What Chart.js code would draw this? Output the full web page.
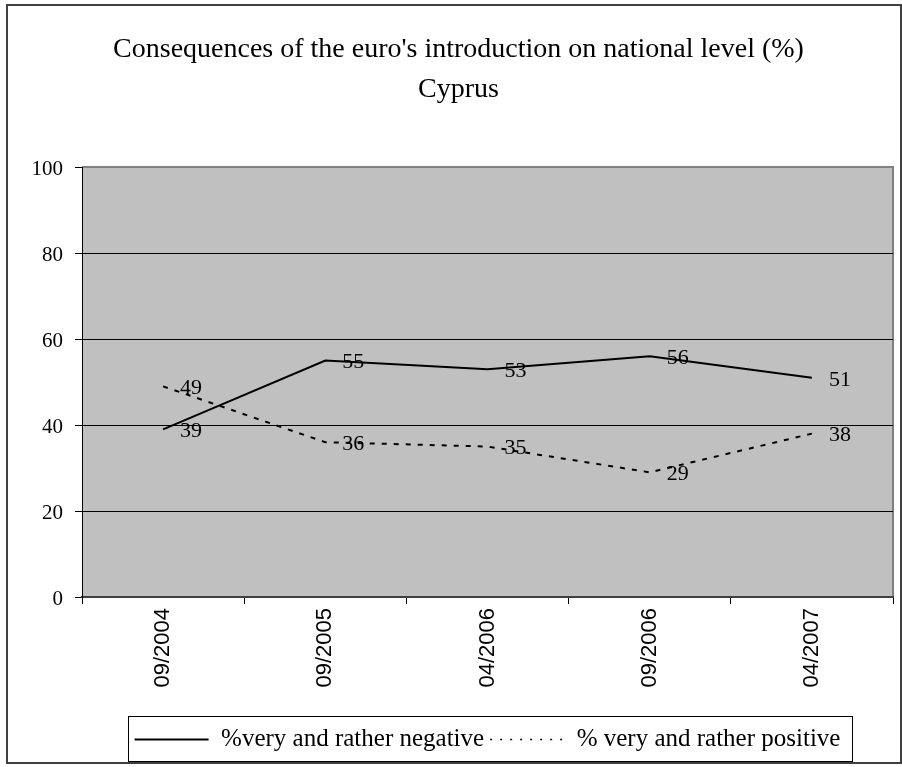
<!DOCTYPE html>
<html>
<head>
<meta charset="utf-8">
<script src="https://cdn.jsdelivr.net/npm/chart.js@4.4.1/dist/chart.umd.min.js"></script>
<style>
  html, body { margin: 0; padding: 0; background: #ffffff; }
  #wrap { position: relative; width: 902px; height: 767px; }
</style>
</head>
<body>
<div id="wrap"><canvas id="chart" width="902" height="767"></canvas></div>
<script>
// Survey waves (x axis)
const categories = ['09/2004', '09/2005', '04/2006', '09/2006', '04/2007'];
// Share of respondents, %
const negativeValues = [39, 55, 53, 56, 51];
const positiveValues = [49, 36, 35, 29, 38];
// Value axis ticks
const yTicks = [0, 20, 40, 60, 80, 100];

const titleLines = ["Consequences of the euro's introduction on national level (%)", 'Cyprus'];
const seriesNames = ['%very and rather negative', '% very and rather positive'];

const SERIF = '"Liberation Serif", "Times New Roman", serif';
const SANS = '"Liberation Sans", Arial, sans-serif';

// Grey plot background with a light frame, plus the outer figure frame
const plotBackground = {
  id: 'plotBackground',
  beforeDraw(chart) {
    const { ctx, chartArea: a } = chart;
    ctx.save();
    ctx.fillStyle = '#c0c0c0';
    ctx.fillRect(a.left, a.top, a.right - a.left, a.bottom - a.top);
    ctx.strokeStyle = '#808080';
    ctx.lineWidth = 2;
    ctx.beginPath();
    ctx.moveTo(a.left, a.top);
    ctx.lineTo(a.right, a.top);
    ctx.lineTo(a.right, a.bottom);
    ctx.stroke();
    ctx.restore();
  },
  afterDraw(chart) {
    const { ctx } = chart;
    ctx.save();
    ctx.strokeStyle = '#404040';
    ctx.lineWidth = 2;
    ctx.strokeRect(7, 5, chart.width - 8, chart.height - 9);
    ctx.restore();
  }
};

// Keep the legend row centred under the plot area
const legendUnderPlot = {
  id: 'legendUnderPlot',
  afterLayout(chart) {
    const lg = chart.legend;
    if (!lg) return;
    lg.left = chart.chartArea.left;
    lg.right = chart.chartArea.right;
    lg.width = lg.right - lg.left;
  }
};

// Value labels to the right of every point
const valueLabels = {
  id: 'valueLabels',
  afterDatasetsDraw(chart) {
    const { ctx } = chart;
    ctx.save();
    ctx.font = '22px ' + SERIF;
    ctx.fillStyle = '#000';
    ctx.textAlign = 'left';
    ctx.textBaseline = 'middle';
    chart.data.datasets.forEach((ds, i) => {
      chart.getDatasetMeta(i).data.forEach((pt, j) => {
        ctx.fillText(String(ds.data[j]), pt.x + 17, pt.y + 2);
      });
    });
    ctx.restore();
  }
};

// Box drawn around the legend items
const legendFrame = {
  id: 'legendFrame',
  afterDraw(chart) {
    const lg = chart.legend;
    if (!lg || !lg.legendHitBoxes || !lg.legendHitBoxes.length) return;
    let l = Infinity, r = -Infinity, t = Infinity, b = -Infinity;
    lg.legendHitBoxes.forEach(h => {
      l = Math.min(l, h.left); r = Math.max(r, h.left + h.width);
      t = Math.min(t, h.top); b = Math.max(b, h.top + h.height);
    });
    const { ctx } = chart;
    ctx.save();
    ctx.strokeStyle = '#000';
    ctx.lineWidth = 1;
    const x0 = Math.round(l - 7) + 0.5, y0 = Math.round(t - 11) + 0.5;
    const x1 = Math.round(r + 12) + 0.5, y1 = Math.round(b + 9) + 0.5;
    ctx.strokeRect(x0, y0, x1 - x0, y1 - y0);
    ctx.restore();
  }
};

new Chart(document.getElementById('chart'), {
  type: 'line',
  data: {
    labels: categories,
    datasets: [
      {
        label: seriesNames[0],
        data: negativeValues,
        borderColor: '#000',
        backgroundColor: '#000',
        borderWidth: 2,
        pointRadius: 0,
        tension: 0,
        fill: false
      },
      {
        label: seriesNames[1],
        data: positiveValues,
        borderColor: '#000',
        backgroundColor: '#000',
        borderWidth: 2,
        borderDash: [5, 7],
        pointRadius: 0,
        tension: 0,
        fill: false
      }
    ]
  },
  options: {
    responsive: false,
    animation: false,
    layout: { padding: { left: 24, right: 9, top: 0, bottom: 5 } },
    plugins: {
      tooltip: { enabled: false },
      title: {
        display: true,
        text: titleLines,
        color: '#000',
        font: { family: SERIF, size: 28, weight: 'normal', lineHeight: 1.43 },
        padding: { top: 30, bottom: 57 }
      },
      legend: {
        display: true,
        position: 'bottom',
        labels: {
          color: '#000',
          font: { family: SERIF, size: 25 },
          usePointStyle: true,
          pointStyle: 'line',
          pointStyleWidth: 74,
          padding: 6,
          generateLabels(chart) {
            return chart.data.datasets.map((ds, i) => ({
              text: ds.label,
              datasetIndex: i,
              pointStyle: 'line',
              strokeStyle: '#000',
              fillStyle: '#000',
              fontColor: '#000',
              lineWidth: i === 0 ? 2 : 1.5,
              lineDash: i === 0 ? [] : [2, 8],
              hidden: false
            }));
          }
        }
      }
    },
    scales: {
      x: {
        type: 'category',
        offset: true,
        grid: {
          offset: true,
          drawOnChartArea: false,
          drawTicks: true,
          tickLength: 7,
          tickColor: '#000'
        },
        border: { color: '#404040', width: 2 },
        ticks: {
          color: '#000',
          font: { family: SANS, size: 22 },
          minRotation: 90,
          maxRotation: 90,
          padding: 4,
          autoSkip: false
        },
        afterFit(scale) { scale.height = 124; }
      },
      y: {
        min: 0,
        max: 100,
        afterBuildTicks(scale) { scale.ticks = yTicks.map(v => ({ value: v })); },
        grid: {
          color: ctx => (ctx.tick && (ctx.tick.value === 0 || ctx.tick.value === 100)) ? 'rgba(0,0,0,0)' : '#000',
          tickColor: '#000',
          tickLength: 7,
          lineWidth: 1
        },
        border: { color: '#000', width: 1 },
        ticks: {
          color: '#000',
          font: { family: SERIF, size: 21 },
          padding: 12,
          labelOffset: 2
        },
        afterFit(scale) { scale.width = 58; }
      }
    }
  },
  plugins: [plotBackground, legendUnderPlot, valueLabels, legendFrame]
});
</script>
</body>
</html>
